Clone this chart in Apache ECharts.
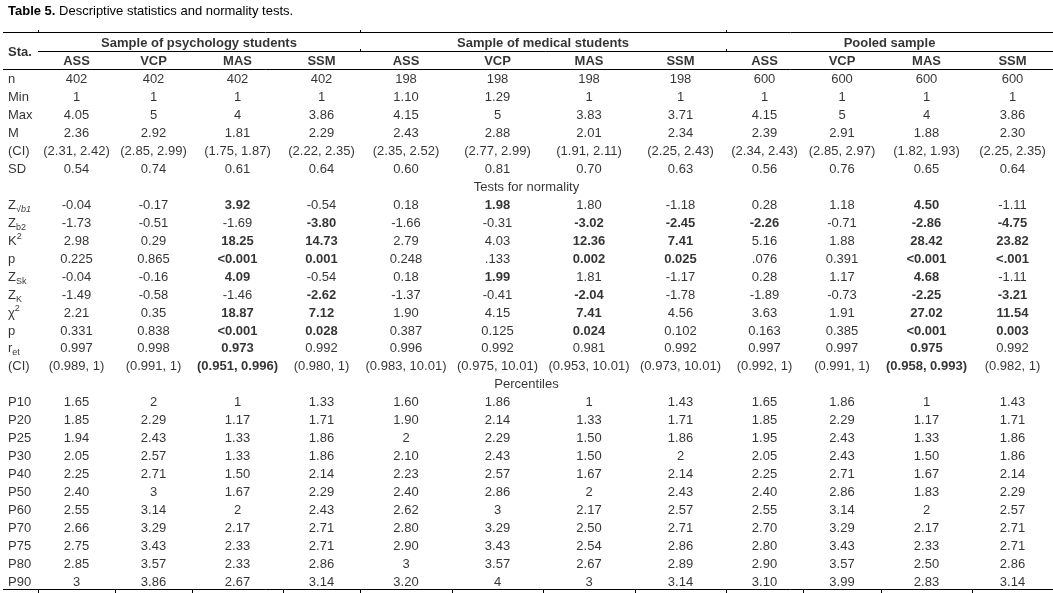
<!DOCTYPE html>
<html>
<head>
<meta charset="utf-8">
<script src="https://cdn.jsdelivr.net/npm/echarts@6/dist/echarts.min.js"></script>
<style>
html,body{margin:0;padding:0;background:#fff;}
#chart{width:1053px;height:593px;}
</style>
</head>
<body>
<div id="chart"></div>
<script>
// ---------- DATA ----------
const titleBold = 'Table 5.';
const titleRest = 'Descriptive statistics and normality tests.';
const corner = 'Sta.';
const groups = ['Sample of psychology students', 'Sample of medical students', 'Pooled sample'];
const measures = ['ASS', 'VCP', 'MAS', 'SSM'];
const sections = ['Tests for normality', 'Percentiles'];
const descLabels = ['n', 'Min', 'Max', 'M', '(CI)', 'SD'];
const normLabels = ['Z{subi|√b1}', 'Z{sub|b2}', 'K{sup|2}', 'p', 'Z{sub|Sk}', 'Z{sub|K}', 'χ{sup|2}', 'p', 'r{sub|et}', '(CI)'];
const pctLabels = ['P10', 'P20', 'P25', 'P30', 'P40', 'P50', 'P60', 'P70', 'P75', 'P80', 'P90'];

const psyASS = ['402','1','4.05','2.36','(2.31, 2.42)','0.54','-0.04','-1.73','2.98','0.225','-0.04','-1.49','2.21','0.331','0.997','(0.989, 1)','1.65','1.85','1.94','2.05','2.25','2.40','2.55','2.66','2.75','2.85','3'];
const psyVCP = ['402','1','5','2.92','(2.85, 2.99)','0.74','-0.17','-0.51','0.29','0.865','-0.16','-0.58','0.35','0.838','0.998','(0.991, 1)','2','2.29','2.43','2.57','2.71','3','3.14','3.29','3.43','3.57','3.86'];
const psyMAS = ['402','1','4','1.81','(1.75, 1.87)','0.61','3.92','-1.69','18.25','<0.001','4.09','-1.46','18.87','<0.001','0.973','(0.951, 0.996)','1','1.17','1.33','1.33','1.50','1.67','2','2.17','2.33','2.33','2.67'];
const psySSM = ['402','1','3.86','2.29','(2.22, 2.35)','0.64','-0.54','-3.80','14.73','0.001','-0.54','-2.62','7.12','0.028','0.992','(0.980, 1)','1.33','1.71','1.86','1.86','2.14','2.29','2.43','2.71','2.71','2.86','3.14'];
const medASS = ['198','1.10','4.15','2.43','(2.35, 2.52)','0.60','0.18','-1.66','2.79','0.248','0.18','-1.37','1.90','0.387','0.996','(0.983, 10.01)','1.60','1.90','2','2.10','2.23','2.40','2.62','2.80','2.90','3','3.20'];
const medVCP = ['198','1.29','5','2.88','(2.77, 2.99)','0.81','1.98','-0.31','4.03','.133','1.99','-0.41','4.15','0.125','0.992','(0.975, 10.01)','1.86','2.14','2.29','2.43','2.57','2.86','3','3.29','3.43','3.57','4'];
const medMAS = ['198','1','3.83','2.01','(1.91, 2.11)','0.70','1.80','-3.02','12.36','0.002','1.81','-2.04','7.41','0.024','0.981','(0.953, 10.01)','1','1.33','1.50','1.50','1.67','2','2.17','2.50','2.54','2.67','3'];
const medSSM = ['198','1','3.71','2.34','(2.25, 2.43)','0.63','-1.18','-2.45','7.41','0.025','-1.17','-1.78','4.56','0.102','0.992','(0.973, 10.01)','1.43','1.71','1.86','2','2.14','2.43','2.57','2.71','2.86','2.89','3.14'];
const pooASS = ['600','1','4.15','2.39','(2.34, 2.43)','0.56','0.28','-2.26','5.16','.076','0.28','-1.89','3.63','0.163','0.997','(0.992, 1)','1.65','1.85','1.95','2.05','2.25','2.40','2.55','2.70','2.80','2.90','3.10'];
const pooVCP = ['600','1','5','2.91','(2.85, 2.97)','0.76','1.18','-0.71','1.88','0.391','1.17','-0.73','1.91','0.385','0.997','(0.991, 1)','1.86','2.29','2.43','2.43','2.71','2.86','3.14','3.29','3.43','3.57','3.99'];
const pooMAS = ['600','1','4','1.88','(1.82, 1.93)','0.65','4.50','-2.86','28.42','<0.001','4.68','-2.25','27.02','<0.001','0.975','(0.958, 0.993)','1','1.17','1.33','1.50','1.67','1.83','2','2.17','2.33','2.50','2.83'];
const pooSSM = ['600','1','3.86','2.30','(2.25, 2.35)','0.64','-1.11','-4.75','23.82','<.001','-1.11','-3.21','11.54','0.003','0.992','(0.982, 1)','1.43','1.71','1.86','1.86','2.14','2.29','2.57','2.71','2.71','2.86','3.14'];

// row indices (within the 27 data rows) printed in bold, per column
const boldPsyMAS = [6,8,9,10,12,13,14,15];
const boldPsySSM = [7,8,9,11,12,13];
const boldMedVCP = [6,10];
const boldMedMAS = [7,8,9,11,12,13];
const boldMedSSM = [7,8,9];
const boldPooASS = [7];
const boldPooMAS = [6,7,8,9,10,11,12,13,14,15];
const boldPooSSM = [7,8,9,11,12,13];

// ---------- LAYOUT ----------
const W = 1053;
const colEdges = [0, 38, 115, 192, 283, 360, 452, 543, 635, 726, 803, 881, 972, 1053];
const labelX = 8;
const FONT = '"Liberation Sans", Arial, sans-serif';
const FS = 13;

const columns = [psyASS, psyVCP, psyMAS, psySSM, medASS, medVCP, medMAS, medSSM, pooASS, pooVCP, pooMAS, pooSSM];
const bolds = [[], [], boldPsyMAS, boldPsySSM, [], boldMedVCP, boldMedMAS, boldMedSSM, boldPooASS, [], boldPooMAS, boldPooSSM];
const colCenter = ci => (colEdges[ci + 1] + colEdges[ci + 2]) / 2;
const groupCenter = gi => (colEdges[1 + 4 * gi] + colEdges[5 + 4 * gi]) / 2;

// slot layout of the rows
const rowLabels = [...descLabels, ...normLabels, ...pctLabels];
const slots = [];
let s = 2; // two header rows
descLabels.forEach(() => slots.push(s++));
const sec1Slot = s++;
normLabels.forEach(() => slots.push(s++));
const sec2Slot = s++;
pctLabels.forEach(() => slots.push(s++));
const nSlots = s;
const yCats = Array.from({length: nSlots}, (_, i) => 'r' + i);

const baseLabel = {
  show: true, position: 'inside', color: '#000', fontFamily: FONT, fontSize: FS,
  formatter: p => p.data.text,
  rich: {
    sub: {fontFamily: FONT, fontSize: 9, color: '#000', padding: [8, 0, 0, 0]},
    subi: {fontFamily: FONT, fontSize: 9, color: '#000', fontStyle: 'italic', padding: [8, 0, 0, 0]},
    sup: {fontFamily: FONT, fontSize: 9, color: '#000', padding: [0, 0, 9, 0]}
  }
};
const mk = (name, data, extra) => Object.assign({
  type: 'scatter', name, symbolSize: 0, silent: true, animation: false,
  itemStyle: {color: 'transparent'},
  data, label: Object.assign({}, baseLabel)
}, extra || {});

const series = [];
// stub column
series.push(mk('rows', rowLabels.map((t, i) => ({value: [labelX, yCats[slots[i]]], text: t})),
  {label: Object.assign({}, baseLabel, {align: 'left'})}));
// corner
series.push(mk('corner', [{value: [labelX, yCats[0]], text: corner}],
  {label: Object.assign({}, baseLabel, {align: 'left', fontWeight: 'bold', offset: [0, 8]})}));
// group headers
series.push(mk('groups', groups.map((g, gi) => ({value: [groupCenter(gi), yCats[0]], text: g})),
  {label: Object.assign({}, baseLabel, {fontWeight: 'bold', offset: [0, -1]})}));
// measure headers
series.push(mk('measures', columns.map((c, ci) => ({value: [colCenter(ci), yCats[1]], text: measures[ci % 4]})),
  {label: Object.assign({}, baseLabel, {fontWeight: 'bold'})}));
// section headers
series.push(mk('sections', [
  {value: [W / 2, yCats[sec1Slot]], text: sections[0]},
  {value: [W / 2, yCats[sec2Slot]], text: sections[1]}
]));
// data columns
columns.forEach((vals, ci) => {
  series.push(mk('c' + ci, vals.map((v, ri) => ({
    value: [colCenter(ci), yCats[slots[ri]]], text: v,
    label: {fontWeight: bolds[ci].includes(ri) ? 'bold' : 'normal'}
  }))));
});

// table rules
const line = (x1, y1, x2, y2, w) => ({type: 'line', silent: true,
  shape: {x1, y1, x2, y2}, style: {stroke: '#000', lineWidth: w || 1}});
const graphics = [
  line(3, 32.5, W, 32.5),
  line(38, 51.5, W, 51.5),
  line(3, 69.5, W, 69.5),
  line(3, 589.5, W, 589.5)
];
[38, 360, 726].forEach(x => graphics.push(line(x + 0.5, 30, x + 0.5, 32)));
[360, 726].forEach(x => graphics.push(line(x + 0.5, 49, x + 0.5, 51)));
colEdges.slice(1, -1).forEach(x => graphics.push(line(x + 0.5, 590, x + 0.5, 593)));

const chart = echarts.init(document.getElementById('chart'), null, {renderer: 'canvas'});
chart.setOption({
  backgroundColor: '#fff',
  animation: false,
  title: {
    text: '{b|' + titleBold + '} ' + titleRest,
    left: 3, top: 0,
    textStyle: {fontFamily: FONT, fontSize: 13, fontWeight: 'normal', color: '#000',
      rich: {b: {fontFamily: FONT, fontSize: 13, fontWeight: 'bold', color: '#000'}}}
  },
  grid: {left: 0, right: 0, top: 35, bottom: 2},
  xAxis: {type: 'value', min: 0, max: W, show: false},
  yAxis: {type: 'category', data: yCats, inverse: true, show: false, boundaryGap: true},
  series,
  graphic: graphics
});
</script>
</body>
</html>
